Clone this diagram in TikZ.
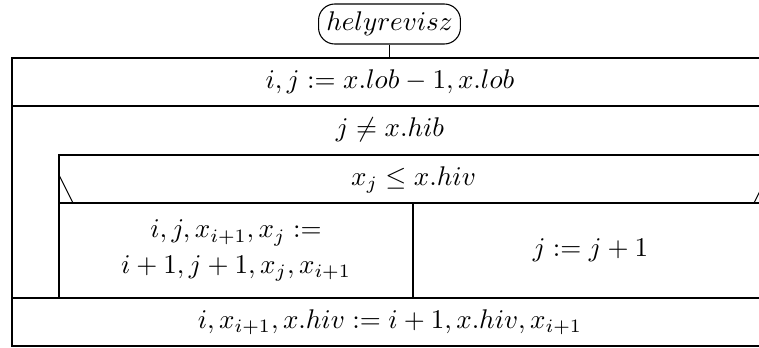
\documentclass[tikz,border=0pt]{standalone}
\usetikzlibrary{fit}
\begin{document}
\begin{tikzpicture}[x=0.37pt,y=-0.37pt,
  box/.style={draw, inner sep=0pt, line width=0.4pt},
  txt/.style={inner sep=0pt, align=center},
  term/.style={draw, rounded corners=6pt, inner sep=0pt, minimum width=52.5pt, minimum height=14.8pt}]
\useasboundingbox (0,0) rectangle (759,347);
\clip (0,0) rectangle (759,347);
% start terminal
\node[term] (start) at (389.5,24) {$helyrevisz$};
\coordinate (top) at (389.5,58);
\draw (start.south) -- (top);
% outer frame and rows
\node[box, fit={(12,58) (768,346)}] (outer) {};
\node[box, fit={(12,58) (768,106)}] (r1) {};
\node[txt] (t1) at (r1.center) {$i,j:=x.lob-1,x.lob$};
% loop
\node[box, fit={(12,106) (768,298)}] (loop) {};
\node[txt] (t2) at (390,130) {$j\neq x.hib$};
% if block
\node[box, fit={(59,155) (768,298)}] (ifb) {};
\node[box, fit={(59,155) (768,203)}] (cond) {};
\node[txt] (t3) at (413.5,180) {$x_j\leq x.hiv$};
\coordinate (dl1) at (59,175);
\coordinate (dl2) at (73,203);
\coordinate (dr1) at (768,175);
\coordinate (dr2) at (754,203);
\draw (dl1) -- (dl2);
\draw (dr1) -- (dr2);
% branches
\node[box, fit={(59,203) (413,298)}] (yes) {};
\node[box, fit={(413,203) (768,298)}] (no) {};
\node[txt] (t4) at (yes.center) {$i,j,x_{i+1},x_j:=$\\[1pt]$i+1,j+1,x_j,x_{i+1}$};
\node[txt] (t5) at (no.center) {$j:=j+1$};
% last row
\node[box, fit={(12,298) (768,346)}] (r3) {};
\node[txt] (t6) at (r3.center) {$i,x_{i+1},x.hiv:=i+1,x.hiv,x_{i+1}$};
\end{tikzpicture}
\end{document}
